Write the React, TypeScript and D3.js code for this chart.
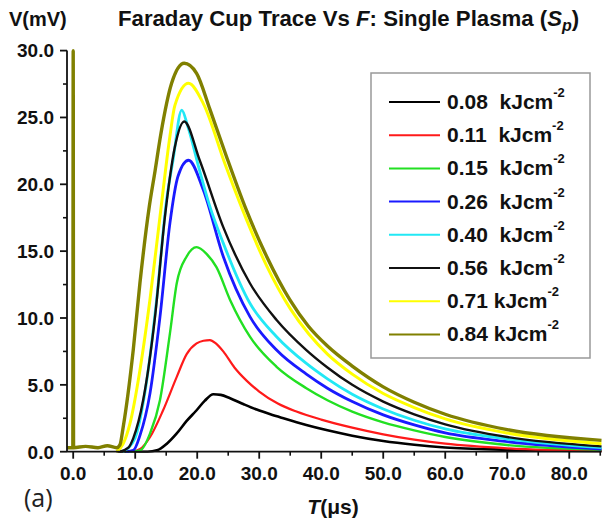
import React from "react";
import * as d3 from "d3";

// Series data: [T (µs), V (mV)]
const S008: [number, number][] = [[7,0],[12,0],[13.5,0.1],[15.1,0.6],[16.7,1.37],[18.3,2.3],[19.9,3.1],[21.2,3.8],[22.6,4.3],[23.8,4.25],[25.3,4.0],[27.5,3.55],[29.6,3.15],[31.8,2.8],[33.9,2.5],[37.6,2.0],[41,1.6],[45,1.2],[50,0.8],[55,0.52],[60,0.32],[70,0.15],[85.2,0.05]];
const S011: [number, number][] = [[9.5,0],[10.8,0.2],[12.4,1.1],[14.5,3.1],[16.7,5.6],[18.3,7.3],[19.9,8.1],[21,8.3],[22.05,8.35],[23,8.1],[24.2,7.5],[26,6.3],[28,5.3],[30,4.5],[33,3.6],[36,3.0],[40,2.4],[45,1.8],[50,1.3],[55,0.9],[60,0.6],[70,0.25],[85.2,0.05]];
const S015: [number, number][] = [[9,0],[10.8,0.1],[12.4,1.37],[14,3.87],[15.6,8.85],[16.7,12.6],[18.3,14.6],[19.9,15.3],[21.5,14.8],[23.1,13.8],[25.3,11.35],[28.5,8.6],[32.8,6.35],[37.6,4.75],[41,3.85],[45,3.0],[50,2.2],[55,1.6],[60,1.1],[70,0.5],[85.2,0.15]];
const S026: [number, number][] = [[8.5,0],[9.7,0.1],[10.76,1.2],[12.4,4.4],[14,10.1],[15.6,17.1],[16.9,20.6],[18.6,21.8],[20.97,19.6],[24.2,14.6],[28.5,10.1],[32.8,7.6],[37.6,5.8],[41,4.75],[45,3.75],[50,2.75],[55,2.0],[60,1.4],[70,0.75],[85.2,0.2]];
const S040: [number, number][] = [[8,0],[9.95,1.0],[11.56,4.4],[13.45,11.35],[15.05,18.8],[16.1,21.8],[17.5,25.55],[18.5,24.3],[20.4,21.0],[22,18.4],[24.2,15.6],[28.5,11.1],[32.8,8.6],[37.6,6.6],[41,5.45],[45,4.3],[50,3.2],[55,2.35],[60,1.7],[70,0.95],[85.2,0.3]];
const S056: [number, number][] = [[7.5,0],[8.9,0.3],[9.68,1.0],[11.3,3.9],[13.2,10.1],[14.8,17.6],[16.4,22.8],[17.9,24.7],[20.4,21.8],[24.2,16.8],[28.5,12.6],[32.8,9.85],[37.6,7.6],[41,6.3],[45,5.0],[50,3.75],[55,2.8],[60,2.05],[70,1.1],[85.2,0.4]];
const S071: [number, number][] = [[7,0],[8.07,0.6],[9.15,2.1],[10.76,6.1],[12.37,11.35],[14,17.6],[15.6,23.6],[16.4,25.9],[18.6,27.55],[20.97,26.05],[24.5,21.5],[28,17.3],[31.2,13.9],[35,10.7],[38,8.8],[41,7.3],[45,5.8],[50,4.35],[55,3.3],[60,2.45],[70,1.4],[85.2,0.6]];
const S084: [number, number][] = [[-1,0.3],[-0.06,0.3],[0,30],[0.06,0.3],[2,0.4],[4,0.3],[5.5,0.45],[7,0.3],[7.53,0.5],[8.07,1.87],[9.68,7.6],[10.76,12.6],[12.26,18.3],[13.2,21],[14.15,23.8],[15.87,27.55],[17.9,29.05],[19.9,28.3],[22.05,25.6],[24.7,22.1],[27.9,18.1],[31.2,14.6],[34.95,11.35],[37.9,9.4],[41,7.9],[45,6.4],[50,4.85],[55,3.7],[60,2.8],[70,1.65],[85.2,0.85]];

const legendValues = ["0.08", "0.11", "0.15", "0.26", "0.40", "0.56", "0.71", "0.84"];
const legendSeps = ["  ", "  ", "  ", "  ", "  ", "  ", " ", " "];
const seriesList = [S008, S011, S015, S026, S040, S056, S071, S084];
const seriesColors = ["#000000", "#ff1a1a", "#22e022", "#1a1aff", "#22e8f5", "#111111", "#ffff00", "#808000"];
const seriesWidths = [2.6, 2.2, 2.4, 2.8, 2.8, 2.4, 3, 3.4];

const xMajorTicks = [0, 10, 20, 30, 40, 50, 60, 70, 80];
const xMinorTicks = [5, 15, 25, 35, 45, 55, 65, 75, 85];
const yMajorTicks = [0, 5, 10, 15, 20, 25, 30];
const yMinorTicks = [2.5, 7.5, 12.5, 17.5, 22.5, 27.5];

const FONT = "'Liberation Sans', Arial, sans-serif";

export default function App() {
  const x = d3.scaleLinear().domain([-1, 85.2]).range([67, 601.5]);
  const y = d3.scaleLinear().domain([0, 30]).range([451.7, 50.6]);
  const fmt = d3.format(".1f");
  const line = d3
    .line<[number, number]>()
    .x((d) => x(d[0]))
    .y((d) => y(d[1]))
    .curve(d3.curveMonotoneX);

  const x0 = 67;
  const yBase = 451.7;

  return (
    <svg
      width={602}
      height={522}
      style={{ position: "absolute", left: 0, top: 0, background: "#fff" }}
      fontFamily={FONT}
    >
      <rect x={0} y={0} width={602} height={522} fill="#fff" />
      {/* Title */}
      <text x={9} y={26} fontSize={20} fontWeight="bold" fill="#111">V(mV)</text>
      <text x={118} y={26} fontSize={22.2} fontWeight="bold" fill="#111">
        Faraday Cup Trace Vs <tspan fontStyle="italic">F</tspan>: Single Plasma (
        <tspan fontStyle="italic">S</tspan>
        <tspan fontStyle="italic" fontSize={16} dy={5}>p</tspan>
        <tspan dy={-5}>)</tspan>
      </text>

      <defs>
        <clipPath id="clip">
          <rect x={x0} y={40} width={540} height={yBase - 40 + 1} />
        </clipPath>
      </defs>

      {/* Series */}
      <g clipPath="url(#clip)">
        {seriesList.map((s, i) => (
          <path
            key={i}
            d={line(s) || ""}
            fill="none"
            stroke={seriesColors[i]}
            strokeWidth={seriesWidths[i]}
            strokeLinejoin="round"
          />
        ))}
      </g>

      {/* Y axis */}
      <line x1={x0} x2={x0} y1={y(30)} y2={yBase} stroke="#111" strokeWidth={1.8} />
      {yMajorTicks.map((t) => (
        <g key={"ym" + t}>
          <line x1={x0 - 7} x2={x0} y1={y(t)} y2={y(t)} stroke="#111" strokeWidth={1.8} />
          <text x={54} y={y(t)} dy="0.36em" textAnchor="end" fontSize={19} fontWeight="bold" fill="#111">
            {fmt(t)}
          </text>
        </g>
      ))}
      {yMinorTicks.map((t) => (
        <line key={"yn" + t} x1={x0 - 4} x2={x0} y1={y(t)} y2={y(t)} stroke="#111" strokeWidth={1.6} />
      ))}

      {/* X axis */}
      <line x1={x0} x2={601.5} y1={yBase} y2={yBase} stroke="#111" strokeWidth={1.8} />
      {xMajorTicks.map((t) => (
        <g key={"xm" + t}>
          <line x1={x(t)} x2={x(t)} y1={yBase} y2={yBase + 7} stroke="#111" strokeWidth={1.8} />
          <text x={x(t)} y={480} textAnchor="middle" fontSize={19} fontWeight="bold" fill="#111">
            {fmt(t)}
          </text>
        </g>
      ))}
      {xMinorTicks.map((t) => (
        <line key={"xn" + t} x1={x(t)} x2={x(t)} y1={yBase} y2={yBase + 4} stroke="#111" strokeWidth={1.6} />
      ))}

      <text x={333} y={514} textAnchor="middle" fontSize={21} fontWeight="bold" fill="#111">
        <tspan fontStyle="italic">T</tspan>(μs)
      </text>
      <text x={24} y={507} fontSize={25} fontFamily="'Open Sans', sans-serif" fill="#222">(a)</text>

      {/* Legend */}
      <rect x={371} y={73} width={219} height={285} fill="#fff" stroke="#999" strokeWidth={1.5} />
      {legendValues.map((v, i) => {
        const ly = 102 + i * 33.2;
        return (
          <g key={"lg" + i}>
            <line x1={389} x2={440} y1={ly} y2={ly} stroke={seriesColors[i]} strokeWidth={2} />
            <text x={447} y={ly + 7} fontSize={21} fontWeight="bold" fill="#111" style={{ whiteSpace: "pre" }}>
              {v + legendSeps[i] + "kJcm"}
              <tspan fontSize={13} dy={-12}>-2</tspan>
            </text>
          </g>
        );
      })}
    </svg>
  );
}
